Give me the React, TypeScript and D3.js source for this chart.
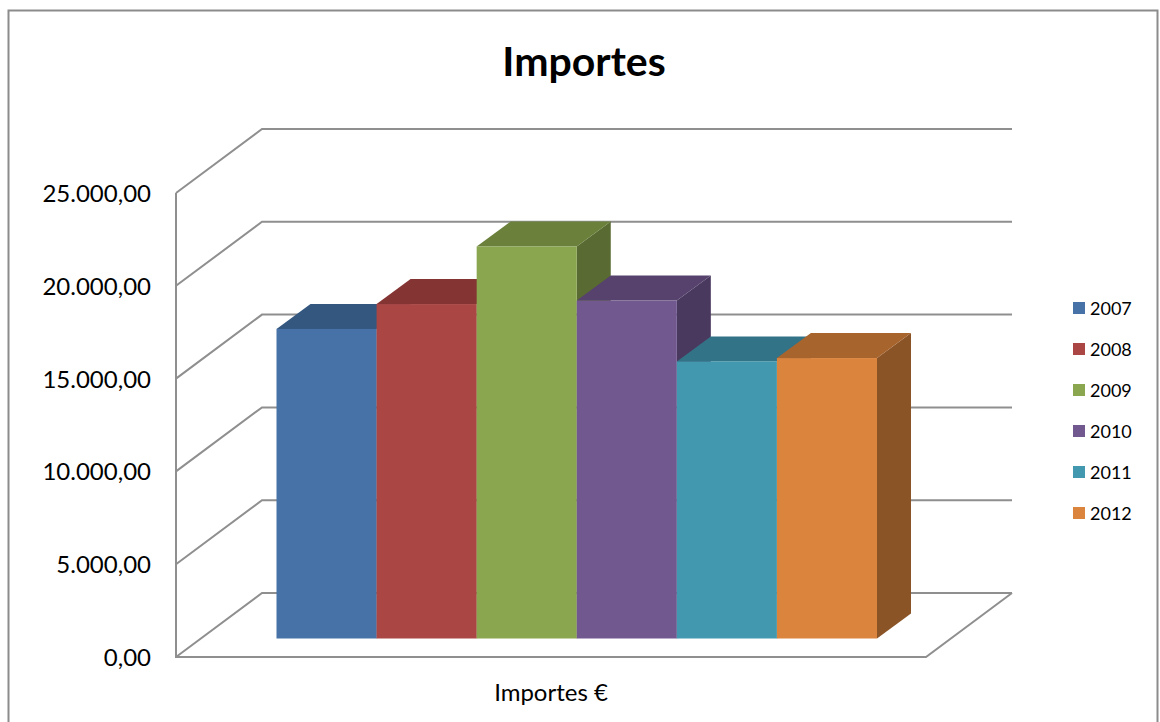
import React from "react";
import * as d3 from "d3";

const years = ["2007", "2008", "2009", "2010", "2011", "2012"];
const amounts = [16680, 18020, 21120, 18210, 14930, 15110];
const tickValues = [0, 5000, 10000, 15000, 20000, 25000];
const tickLabels = ["0,00", "5.000,00", "10.000,00", "15.000,00", "20.000,00", "25.000,00"];
const frontColors = ["#4672a8", "#aa4644", "#8aa64f", "#71588f", "#4198af", "#db843d"];
const topColors = ["#34577f", "#843433", "#6a803b", "#56426d", "#337387", "#a8642d"];
const sideColors = ["#2f4e72", "#6f2c2b", "#596b32", "#49395e", "#2b6273", "#8b5427"];

const FONT = "Lato, 'Open Sans', sans-serif";
const GRID = "#8f8f8f";

// Oblique projection: the floor recedes by this offset from the front edge to the back wall.
const wallDx = 86;
const wallDy = -64;
const barDx = 34;
const barDy = -25;

const axisY = d3.scaleLinear().domain([0, 25000]).range([657, 193]);
const barX = d3.scaleBand().domain(years).range([276.5, 877]).padding(0);
const barBase = 638.5;
const barHeight = (v: number) => axisY(0) - axisY(v);

const axisLeft = 176;
const axisRight = 926;

export default function App() {
  const w = barX.bandwidth();
  return (
    <svg
      width={1160}
      height={722}
      viewBox="0 0 1160 722"
      style={{ position: "absolute", left: 0, top: 0, background: "#fff" }}
      fontFamily={FONT}
    >
      <path d="M8.5,722 V10.5 H1157.5 V722" fill="none" stroke="#8c8c8c" strokeWidth={2} />

      <text x={584} y={76} textAnchor="middle" fontSize={41} fontWeight={700} fill="#000">
        Importes
      </text>

      {/* Side wall and back wall gridlines */}
      <g fill="none" stroke={GRID} strokeWidth={2}>
        {tickValues.map((t) => {
          const y = axisY(t);
          return (
            <path
              key={t}
              d={`M${axisLeft},${y} L${axisLeft + wallDx},${y + wallDy} H${axisRight + wallDx}`}
            />
          );
        })}
        <path
          d={`M${axisLeft},${axisY(25000)} V${axisY(0)} H${axisRight} L${axisRight + wallDx},${axisY(0) + wallDy}`}
        />
      </g>

      {tickValues.map((t, i) => (
        <text key={t} x={151} y={axisY(t) + 9} textAnchor="end" fontSize={24} fill="#000">
          {tickLabels[i]}
        </text>
      ))}

      {/* Bars painted left to right so each one overlaps its neighbour's side face */}
      {years.map((year, i) => {
        const x = barX(year) as number;
        const top = barBase - barHeight(amounts[i]);
        return (
          <g key={year}>
            <path
              d={`M${x + w},${top} l${barDx},${barDy} V${barBase + barDy} L${x + w},${barBase} Z`}
              fill={sideColors[i]}
            />
            <path
              d={`M${x},${top} l${barDx},${barDy} h${w} l${-barDx},${-barDy} Z`}
              fill={topColors[i]}
            />
            <rect x={x} y={top} width={w} height={barBase - top} fill={frontColors[i]} />
          </g>
        );
      })}

      <text x={551} y={701} textAnchor="middle" fontSize={24} fill="#000">
        Importes €
      </text>

      {years.map((year, i) => {
        const y = 302 + i * 41;
        return (
          <g key={year}>
            <rect x={1073} y={y} width={12} height={12} fill={frontColors[i]} />
            <text x={1090} y={y + 13} fontSize={18} fill="#000">
              {year}
            </text>
          </g>
        );
      })}
    </svg>
  );
}
